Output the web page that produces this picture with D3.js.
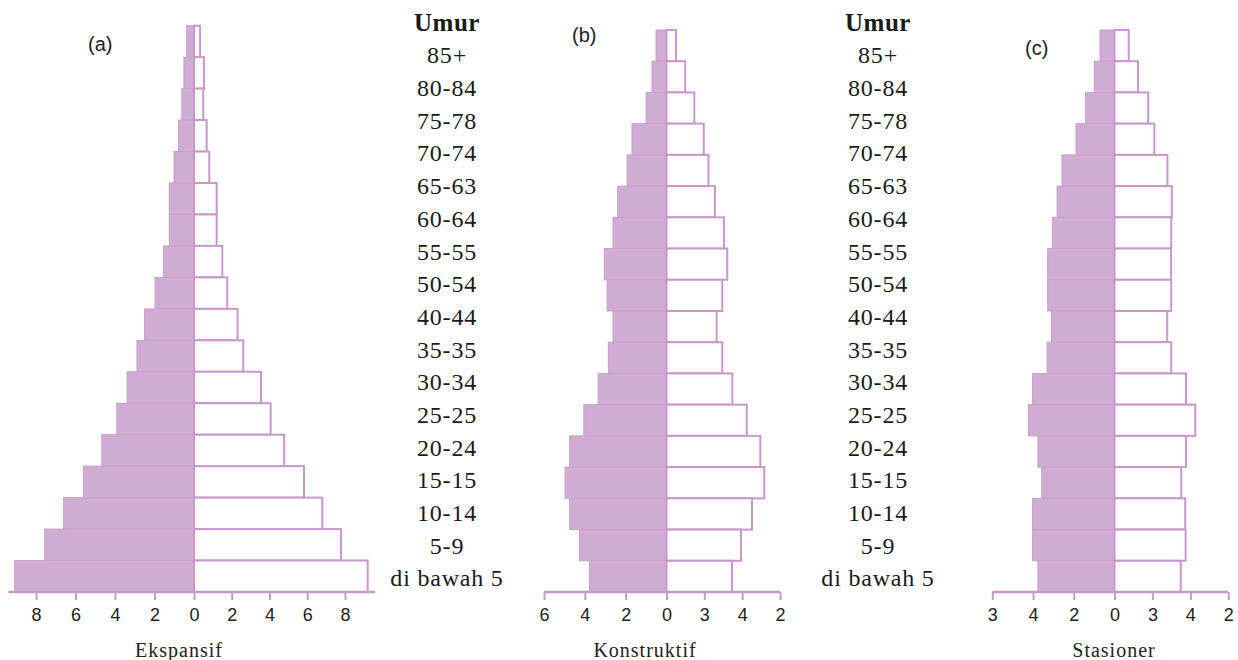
<!DOCTYPE html>
<html>
<head>
<meta charset="utf-8">
<script src="https://cdn.jsdelivr.net/npm/d3@7"></script>
<style>
  body { margin: 0; background: #fff; }
  svg { display: block; }
  .tick text { font-family: "Liberation Sans", Arial, sans-serif; font-size: 18px; fill: #222; }
</style>
</head>
<body>
<div id="chart"></div>
<script>
// Age groups as printed (top to bottom)
var ageLabels = ["85+", "80-84", "75-78", "70-74", "65-63", "60-64", "55-55", "50-54",
  "40-44", "35-35", "30-34", "25-25", "20-24", "15-15", "10-14", "5-9", "di bawah 5"];

// 18 bars per pyramid, top to bottom (left = shaded, right = outlined)
var ekspansifLeft  = [0.37, 0.51, 0.62, 0.79, 1.01, 1.25, 1.25, 1.55, 1.97, 2.5, 2.89, 3.39, 3.91, 4.67, 5.6, 6.6, 7.56, 9.08];
var ekspansifRight = [0.32, 0.53, 0.49, 0.67, 0.81, 1.2, 1.2, 1.5, 1.76, 2.31, 2.61, 3.55, 4.06, 4.78, 5.83, 6.8, 7.79, 9.2];

var konstruktifLeft  = [0.51, 0.71, 1.0, 1.69, 1.93, 2.39, 2.62, 3.05, 2.91, 2.62, 2.85, 3.35, 4.05, 4.74, 4.97, 4.74, 4.27, 3.78];
var konstruktifRight = [0.5, 0.99, 1.47, 1.97, 2.22, 2.56, 3.04, 3.21, 2.95, 2.65, 2.95, 3.48, 4.24, 4.96, 5.17, 4.52, 3.94, 3.46];

var stasionerLeft  = [0.71, 0.99, 1.43, 1.89, 2.58, 2.82, 3.05, 3.28, 3.28, 3.1, 3.31, 4.02, 4.23, 3.76, 3.57, 4.02, 4.02, 3.76];
var stasionerRight = [0.75, 1.24, 1.78, 2.1, 2.79, 3.02, 2.99, 2.98, 2.99, 2.78, 2.99, 3.77, 4.26, 3.77, 3.52, 3.73, 3.75, 3.49];

// Tick values and the labels printed under them
var ticksA = [-8, -6, -4, -2, 0, 2, 4, 6, 8];
var tickLabelsA = ["8", "6", "4", "2", "0", "2", "4", "6", "8"];
var ticksBC = [-6, -4, -2, 0, 2, 4, 6];
var tickLabelsB = ["6", "4", "2", "0", "3", "4", "2"];
var tickLabelsC = ["3", "4", "2", "0", "3", "4", "2"];

var titles = ["(a)", "(b)", "(c)"];
var names = ["Ekspansif", "Konstruktif", "Stasioner"];

var width = 1238, height = 660;
var fillColor = "#cfadd2", lineColor = "#c898cd";
var baseY = 592;
var serif = "'Liberation Serif', 'Times New Roman', serif";

var svg = d3.select("#chart").append("svg")
  .attr("width", width)
  .attr("height", height);

var panels = [
  { left: ekspansifLeft, right: ekspansifRight, ticks: ticksA, labels: tickLabelsA,
    domain: [-8, 0, 8], range: [36, 194, 345], extent: [-9.4, 9.6], top: 25.7,
    title: titles[0], titleX: 88, titleY: 51, name: names[0], nameX: 179 },
  { left: konstruktifLeft, right: konstruktifRight, ticks: ticksBC, labels: tickLabelsB,
    domain: [-6, 0, 6], range: [544, 666.5, 780], extent: [-6, 6], top: 30,
    title: titles[1], titleX: 572, titleY: 42, name: names[1], nameX: 645 },
  { left: stasionerLeft, right: stasionerRight, ticks: ticksBC, labels: tickLabelsC,
    domain: [-6, 0, 6], range: [992.3, 1114.5, 1228.3], extent: [-6, 6], top: 30,
    title: titles[2], titleX: 1025, titleY: 55, name: names[2], nameX: 1114 }
];

panels.forEach(function(p) {
  var x = d3.scaleLinear().domain(p.domain).range(p.range);
  var y = d3.scaleBand().domain(d3.range(p.left.length)).range([p.top, baseY]).paddingInner(0);
  var g = svg.append("g");

  // shaded (left) bars
  g.selectAll("rect.l").data(p.left).enter().append("rect")
    .attr("class", "l")
    .attr("x", function(d) { return x(-d); })
    .attr("y", function(d, i) { return y(i); })
    .attr("width", function(d) { return x(0) - x(-d); })
    .attr("height", y.bandwidth())
    .style("fill", fillColor)
    .style("stroke", "#c8a0cc")
    .style("stroke-width", "1px");

  // outlined (right) bars
  g.selectAll("rect.r").data(p.right).enter().append("rect")
    .attr("class", "r")
    .attr("x", x(0))
    .attr("y", function(d, i) { return y(i); })
    .attr("width", function(d) { return x(d) - x(0); })
    .attr("height", y.bandwidth())
    .style("fill", "#fff")
    .style("stroke", lineColor)
    .style("stroke-width", "2px");

  // axis
  var axis = d3.axisBottom(x)
    .tickValues(p.ticks)
    .tickFormat(function(d, i) { return p.labels[i]; })
    .tickSize(8)
    .tickSizeOuter(0)
    .tickPadding(8);
  var ag = g.append("g")
    .attr("transform", "translate(0," + baseY + ")")
    .call(axis);
  ag.select(".domain").remove();
  ag.selectAll(".tick line").style("stroke", lineColor).style("stroke-width", "2px");
  ag.append("line")
    .attr("x1", x(p.extent[0]))
    .attr("x2", x(p.extent[1]))
    .style("stroke", lineColor)
    .style("stroke-width", "2.5px");

  g.append("text")
    .attr("x", p.titleX)
    .attr("y", p.titleY)
    .style("font-family", "'Liberation Sans', Arial, sans-serif")
    .style("font-size", "20px")
    .style("fill", "#222")
    .text(p.title);

  g.append("text")
    .attr("x", p.nameX)
    .attr("y", 657)
    .attr("text-anchor", "middle")
    .style("font-family", serif)
    .style("font-size", "20px")
    .style("letter-spacing", "1px")
    .style("fill", "#222")
    .text(p.name);
});

// age label columns
var ly = d3.scalePoint().domain(ageLabels).range([55, 578]);
[447, 878].forEach(function(cx) {
  var col = svg.append("g");
  col.append("text")
    .attr("x", cx)
    .attr("y", 22)
    .attr("dy", "0.35em")
    .attr("text-anchor", "middle")
    .style("font-family", serif)
    .style("font-weight", "bold")
    .style("font-size", "25px")
    .style("letter-spacing", "0.5px")
    .style("fill", "#1a1a1a")
    .text("Umur");
  col.selectAll("text.age").data(ageLabels).enter().append("text")
    .attr("class", "age")
    .attr("x", cx)
    .attr("y", function(d) { return ly(d); })
    .attr("dy", "0.35em")
    .attr("text-anchor", "middle")
    .style("font-family", serif)
    .style("font-size", "24px")
    .style("letter-spacing", "0.8px")
    .style("fill", "#1a1a1a")
    .text(function(d) { return d; });
});
</script>
</body>
</html>
